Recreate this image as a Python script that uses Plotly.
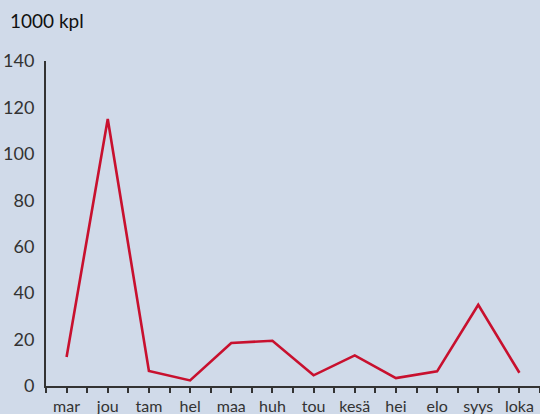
import plotly.graph_objects as go

months = ["mar", "jou", "tam", "hel", "maa", "huh", "tou", "kesä", "hei", "elo", "syys", "loka"]
values = [12.5, 115, 6.5, 2.4, 18.5, 19.5, 4.6, 13.2, 3.4, 6.3, 35, 5.7]
y_ticks = [0, 20, 40, 60, 80, 100, 120, 140]
unit_label = "1000 kpl"

x_idx = list(range(len(months)))

fig = go.Figure()
fig.add_trace(go.Scatter(
    x=x_idx, y=values, mode="lines",
    line=dict(color="#c8102e", width=2.6),
    hoverinfo="skip",
))

bg = "#d0dae9"
fig.update_layout(
    width=540, height=414,
    paper_bgcolor=bg, plot_bgcolor=bg,
    margin=dict(l=46, r=0, t=61, b=28),
    showlegend=False,
    font=dict(family="Lato, 'Open Sans', sans-serif", size=16, color="#333333"),
    annotations=[dict(
        text=unit_label, xref="paper", yref="paper", x=-38/494, y=1 + 41/325,
        xanchor="left", yanchor="middle", showarrow=False,
        font=dict(size=19, color="#111111"),
    )],
)
fig.update_xaxes(
    range=[-0.5, 11.5], tickvals=x_idx, ticktext=months,
    showgrid=False, zeroline=False, showline=True, linecolor="#333333", linewidth=2,
    ticks="outside", ticklen=5, tickcolor="#333333", tickwidth=1.5,
    minor=dict(dtick=0.5, tick0=-0.5, ticks="outside", ticklen=5, tickcolor="#333333", tickwidth=1.5),
    tickfont=dict(size=16),
)
fig.update_yaxes(
    range=[0, 140], tickvals=y_ticks,
    showgrid=False, zeroline=False, showline=True, linecolor="#333333", linewidth=2,
    ticks="", ticklabelstandoff=6,
    tickfont=dict(size=18),
)

fig.write_html("out.html", config={"displayModeBar": False},
               post_script="document.body.style.margin='0';document.body.style.overflow='hidden';")
